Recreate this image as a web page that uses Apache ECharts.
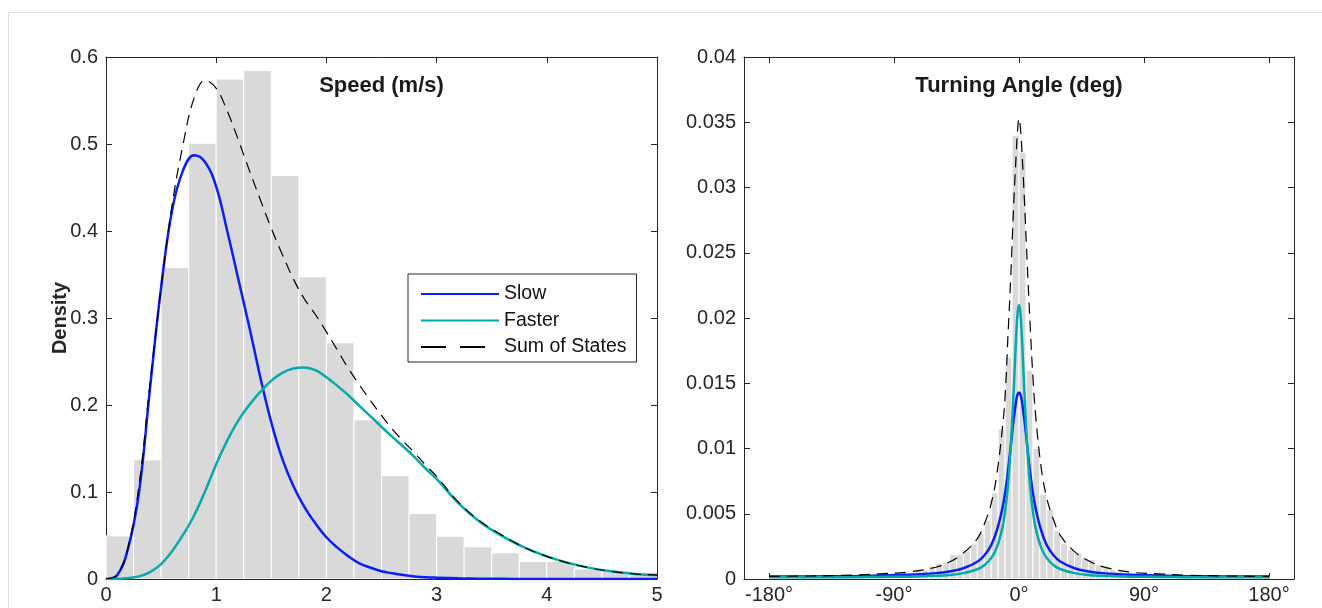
<!DOCTYPE html>
<html>
<head>
<meta charset="utf-8">
<script src="https://cdn.jsdelivr.net/npm/echarts@6/dist/echarts.min.js"></script>
<style>
html,body{margin:0;padding:0;background:#fff;}
#chart{width:1322px;height:608px;}
</style>
</head>
<body>
<div id="chart"></div>
<script>
// ---------- Speed panel data ----------
const speedBinStart = [0,0.25,0.5,0.75,1.0,1.25,1.5,1.75,2.0,2.25,2.5,2.75,3.0,3.25,3.5,3.75,4.0,4.25,4.5,4.75];
const speedBinWidth = 0.25;
const speedHist = [0.0496,0.137,0.358,0.501,0.5746,0.5846,0.4638,0.3473,0.2715,0.183,0.119,0.0754,0.0492,0.037,0.030,0.0202,0.0202,0.0115,0.009,0.0075];

const speedX = [0,0.1,0.2,0.3,0.4,0.5,0.6,0.7,0.8,0.9,1.0,1.1,1.2,1.3,1.4,1.5,1.6,1.7,1.8,1.9,2.0,2.1,2.2,2.3,2.4,2.5,2.6,2.7,2.8,2.9,3.0,3.2,3.4,3.6,3.8,4.0,4.2,4.4,4.6,4.8,5.0];
const speedSlow = [0,0.004,0.035,0.10,0.22,0.335,0.424,0.47,0.487,0.479,0.451,0.40,0.345,0.29,0.232,0.180,0.138,0.107,0.083,0.064,0.048,0.036,0.026,0.018,0.013,0.009,0.0065,0.0045,0.003,0.002,0.0015,0.0008,0.0004,0.0002,0.0001,0.0001,0,0,0,0,0];
const speedFaster = [0,0,0.001,0.003,0.008,0.017,0.032,0.051,0.073,0.101,0.132,0.159,0.182,0.200,0.215,0.228,0.237,0.242,0.243,0.240,0.232,0.222,0.211,0.199,0.187,0.175,0.163,0.152,0.140,0.127,0.115,0.087,0.065,0.049,0.036,0.026,0.0182,0.0125,0.0085,0.0058,0.0045];
const speedSum = [0,0.005,0.036,0.108,0.225,0.335,0.43,0.50,0.553,0.573,0.564,0.538,0.505,0.470,0.436,0.403,0.373,0.345,0.322,0.304,0.284,0.263,0.242,0.223,0.205,0.188,0.172,0.158,0.145,0.131,0.118,0.088,0.066,0.050,0.036,0.026,0.0182,0.0125,0.0085,0.0058,0.0045];
const speedTicks = [0,1,2,3,4,5];

// ---------- Turning angle panel data ----------
const angleBinStart = [-180,-175,-170,-165,-160,-155,-150,-145,-140,-135,-130,-125,-120,-115,-110,-105,-100,-95,-90,-85,-80,-75,-70,-65,-60,-55,-50,-45,-40,-35,-30,-25,-20,-15,-10,-5,
  0,5,10,15,20,25,30,35,40,45,50,55,60,65,70,75,80,85,90,95,100,105,110,115,120,125,130,135,140,145,150,155,160,165,170,175];
const angleBinWidth = 5;
const angleHist = [0.0002,0.0002,0.0002,0.0002,0.0002,0.0002,0.0002,0.00025,0.00025,0.00025,0.0003,0.0003,0.0003,0.0003,0.0003,0.00035,0.0004,0.0004,0.0004,0.0005,0.0005,0.0007,0.0007,0.0010,0.0012,0.0013,0.0019,0.0019,0.0022,0.0027,0.0035,0.0045,0.0066,0.0115,0.0170,0.0340,
  0.0327,0.0160,0.0100,0.0065,0.0053,0.0037,0.0027,0.0023,0.0020,0.0016,0.0015,0.0011,0.0009,0.0007,0.0006,0.0005,0.0004,0.0004,0.0004,0.00035,0.0003,0.0003,0.0003,0.0003,0.0003,0.00025,0.00025,0.00025,0.0002,0.0002,0.0002,0.0002,0.0002,0.0002,0.0002,0.0002];

const angleX = [-180,-150,-120,-100,-80,-60,-50,-40,-30,-25,-20,-16,-12,-10,-8,-6,-4,-3,-2,-1,0,1,2,3,4,6,8,10,12,16,20,25,30,40,50,60,80,100,120,150,180];
const angleSlow = [0.0002,0.0002,0.00022,0.00027,0.00033,0.00045,0.00058,0.00082,0.00132,0.0018,0.0026,0.0037,0.0054,0.0066,0.0082,0.0101,0.0121,0.0129,0.0137,0.01415,0.0143,
  0.01415,0.0137,0.0129,0.0121,0.0101,0.0082,0.0066,0.0054,0.0037,0.0026,0.0018,0.00132,0.00082,0.00058,0.00045,0.00033,0.00027,0.00022,0.0002,0.0002];
const angleFaster = [0.00013,0.00013,0.00014,0.00016,0.00018,0.00024,0.0003,0.00045,0.00075,0.00106,0.0016,0.0024,0.0039,0.0052,0.0071,0.0100,0.0141,0.0164,0.0187,0.0204,0.0210,
  0.0204,0.0187,0.0164,0.0141,0.0100,0.0071,0.0052,0.0039,0.0024,0.0016,0.00106,0.00075,0.00045,0.0003,0.00024,0.00018,0.00016,0.00014,0.00013,0.00013];
const angleSum = [0.0002,0.00023,0.0003,0.0004,0.00053,0.0009,0.0013,0.0020,0.0031,0.0042,0.0058,0.0080,0.0115,0.0140,0.0185,0.0230,0.0283,0.0305,0.0326,0.0344,0.0353,
  0.0346,0.0330,0.0310,0.0288,0.0240,0.0195,0.0155,0.0125,0.0085,0.0062,0.0045,0.0033,0.0021,0.0014,0.00095,0.00053,0.0004,0.0003,0.00023,0.0002];
const angleTicks = [-180,-90,0,90,180];

// ---------- styles ----------
const FONT = '"Liberation Sans", Arial, Helvetica, sans-serif';
const AX = '#262626';
const BLUE = '#0a1ff5';
const CYAN = '#00aaaa';

function zip(xs, ys){ return xs.map((x,i)=>[x, ys[i]]); }
function histItem(params, api){
  const a = api.coord([api.value(0), api.value(2)]);
  const b = api.coord([api.value(1), 0]);
  return {type:'rect', shape:{x:a[0], y:a[1], width:b[0]-a[0], height:b[1]-a[1]},
    style:{fill:'#d9d9d9', stroke:'#ffffff', lineWidth:1}};
}
function baseAxis(extra){
  return Object.assign({
    axisLine:{show:true, onZero:false, lineStyle:{color:AX, width:1}},
    axisTick:{show:true, inside:true, length:6, lineStyle:{color:AX, width:1}},
    splitLine:{show:false},
    axisLabel:{color:AX, fontSize:20, fontFamily:FONT, margin:6}
  }, extra);
}
function mirror(ax){
  ax.axisLabel = Object.assign({}, ax.axisLabel, {show:false});
  return ax;
}
function curve(name, xi, yi, xs, ys, color, width, dash){
  return {type:'line', name:name, xAxisIndex:xi, yAxisIndex:yi, data:zip(xs, ys),
    smooth:0.4, symbol:'none', showSymbol:false,
    lineStyle:{color:color, width:width, type:dash || 'solid'}, itemStyle:{color:color},
    z: dash ? 4 : 3};
}

const speedHistData = speedBinStart.map((s,i)=>[s, s+speedBinWidth, speedHist[i]]);
const angleHistData = angleBinStart.map((s,i)=>[s, s+angleBinWidth, angleHist[i]]);

const chart = echarts.init(document.getElementById('chart'), null, {renderer:'canvas'});
const opt = {
  backgroundColor:'#ffffff',
  animation:false,
  grid:[
    {left:106, right:665, top:57, bottom:29},
    {left:744, right:28, top:57, bottom:29}
  ],
  xAxis:[
    baseAxis({type:'value', gridIndex:0, min:0, max:5, interval:1, position:'bottom'}),
    mirror(baseAxis({type:'value', gridIndex:0, min:0, max:5, interval:1, position:'top'})),
    baseAxis({type:'value', gridIndex:1, min:-198, max:198, position:'bottom',
      axisTick:{show:true, inside:true, length:6, lineStyle:{color:AX}, customValues:angleTicks},
      axisLabel:{color:AX, fontSize:20, fontFamily:FONT, margin:6, customValues:angleTicks, formatter:v=>String(v)+'°'}}),
    baseAxis({type:'value', gridIndex:1, min:-198, max:198, position:'top',
      axisTick:{show:true, inside:true, length:6, lineStyle:{color:AX}, customValues:angleTicks},
      axisLabel:{show:false, customValues:angleTicks}})
  ],
  yAxis:[
    baseAxis({type:'value', gridIndex:0, min:0, max:0.6, interval:0.1, position:'left',
      axisLabel:{color:AX, fontSize:20, fontFamily:FONT, margin:8, formatter:v=>String(+v.toFixed(3))}}),
    mirror(baseAxis({type:'value', gridIndex:0, min:0, max:0.6, interval:0.1, position:'right'})),
    baseAxis({type:'value', gridIndex:1, min:0, max:0.04, interval:0.005, position:'left',
      axisLabel:{color:AX, fontSize:20, fontFamily:FONT, margin:8, formatter:v=>String(+v.toFixed(4))}}),
    mirror(baseAxis({type:'value', gridIndex:1, min:0, max:0.04, interval:0.005, position:'right'}))
  ],
  legend:{
    data:['Slow','Faster',{name:'Sum of States', lineStyle:{type:[25,14]}}],
    orient:'vertical', left:408, top:274,
    itemWidth:78, itemHeight:14, itemGap:6.5,
    padding:[10,10,5,12],
    borderColor:AX, borderWidth:1, backgroundColor:'#ffffff',
    textStyle:{fontSize:19.5, color:'#111', fontFamily:FONT},
    itemStyle:{opacity:0},
    selectedMode:false
  },
  graphic:[
    {type:'rect', silent:true, z:-10, shape:{x:8.5, y:12.5, width:1400, height:700}, style:{fill:'none', stroke:'#dedede', lineWidth:1}},
    {type:'text', x:381.5, y:86, style:{text:'Speed (m/s)', align:'center', verticalAlign:'middle', font:'bold 22px '+FONT, fill:'#1a1a1a'}, z:10},
    {type:'text', x:1019, y:86, style:{text:'Turning Angle (deg)', align:'center', verticalAlign:'middle', font:'bold 22px '+FONT, fill:'#1a1a1a'}, z:10},
    {type:'text', x:60, y:318, rotation:Math.PI/2, style:{text:'Density', align:'center', verticalAlign:'middle', font:'bold 20px '+FONT, fill:'#262626'}, z:10}
  ],
  series:[
    {type:'custom', name:'speedHist', xAxisIndex:0, yAxisIndex:0, renderItem:histItem, encode:{x:[0,1], y:2}, data:speedHistData, clip:true, z:1},
    curve('Slow', 0, 0, speedX, speedSlow, BLUE, 2.5),
    curve('Faster', 0, 0, speedX, speedFaster, CYAN, 2.5),
    curve('Sum of States', 0, 0, speedX, speedSum, '#000', 1.2, [11,7]),
    {type:'custom', name:'angleHist', xAxisIndex:2, yAxisIndex:2, renderItem:histItem, encode:{x:[0,1], y:2}, data:angleHistData, clip:true, z:1},
    curve('Slow', 2, 2, angleX, angleSlow, BLUE, 2.5),
    curve('Faster', 2, 2, angleX, angleFaster, CYAN, 2.5),
    curve('Sum of States', 2, 2, angleX, angleSum, '#000', 1.2, [11,7])
  ]
};
chart.setOption(opt);
</script>
</body>
</html>
